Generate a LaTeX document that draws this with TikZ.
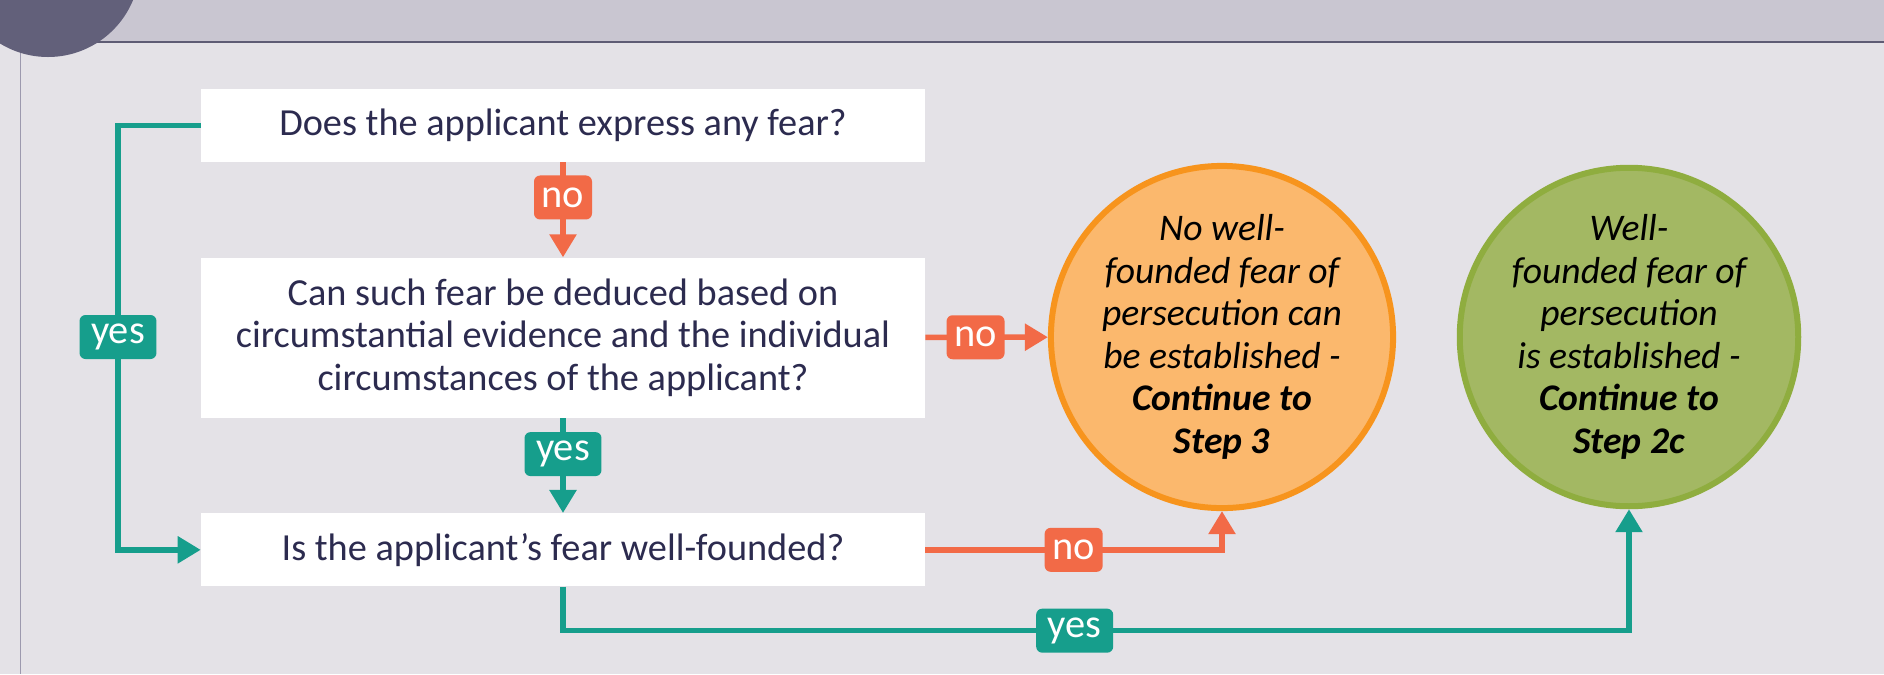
\documentclass[tikz,border=0pt]{standalone}
\usepackage{fontspec}
\setmainfont{Carlito}
\usetikzlibrary{positioning,arrows.meta}

\definecolor{pagebg}{HTML}{E4E2E7}
\definecolor{bandbg}{HTML}{C9C6D1}
\definecolor{bandline}{HTML}{5E5C74}
\definecolor{discfill}{HTML}{62607A}
\definecolor{framegray}{HTML}{9C99AE}
\definecolor{yesteal}{HTML}{169E8C}
\definecolor{noorange}{HTML}{F26A47}
\definecolor{failfill}{HTML}{FBB86D}
\definecolor{faildraw}{HTML}{F7941D}
\definecolor{passfill}{HTML}{A3B863}
\definecolor{passdraw}{HTML}{8FAD3F}
\definecolor{qtext}{HTML}{2C2B4F}

\begin{document}
\begin{tikzpicture}[
    x=0.02cm, y=-0.02cm,
    question/.style={rectangle, fill=white, text=qtext, minimum width=14.48cm,
        align=center, inner sep=0pt, font=\fontsize{21.8pt}{24pt}\selectfont},
    outcome/.style={circle, line width=0.12cm, minimum size=6.16cm, inner sep=0pt,
        align=center, font=\fontsize{21.4pt}{24.2pt}\selectfont\itshape},
    badge/.style={rectangle, rounded corners=0.12cm, minimum height=0.88cm,
        inner sep=0pt, text=white, font=\fontsize{23pt}{24pt}\selectfont},
    nobadge/.style={badge, fill=noorange, minimum width=1.16cm},
    yesbadge/.style={badge, fill=yesteal, minimum width=1.54cm},
    noline/.style={draw=noorange, line width=0.11cm},
    yesline/.style={draw=yesteal, line width=0.11cm},
    arrowstyle/.style={-{Triangle[width=0.52cm, length=0.46cm]}},
    node distance=1.9cm
]
% page background, header band and frame
\useasboundingbox (0,0) rectangle (1884,674);
\fill[pagebg] (0,0) rectangle (1884,674);
\fill[bandbg] (0,0) rectangle (1884,42);
\draw[bandline, line width=0.04cm] (0,42) -- (1884,42);
\draw[framegray, line width=0.03cm] (20.5,42) -- (20.5,674);
\fill[discfill] (48,-35) circle (92);

% questions
\node (Express) [question, minimum height=1.46cm] at (563,125.5)
    {Does the applicant express any fear?};
\node (Deduced) [question, minimum height=3.2cm, below=of Express]
    {Can such fear be deduced based on\\
     circumstantial evidence and the individual\\
     circumstances of the applicant?};
\node (Founded) [question, minimum height=1.46cm, below=of Deduced]
    {Is the applicant’s fear well-founded?};

% outcomes
\node (Fail) [outcome, fill=failfill, draw=faildraw] at (1222,337)
    {No well-\\founded fear of\\persecution can\\be established -\\
     \textbf{Continue to}\\\textbf{Step 3}};
\node (Pass) [outcome, fill=passfill, draw=passdraw] at (1629,337)
    {Well-\\founded fear of\\persecution\\is established -\\
     \textbf{Continue to}\\\textbf{Step 2c}};

% answers
\draw[noline, arrowstyle] (Express) -- node[nobadge, pos=0.37] {no} (Deduced);
\draw[yesline, arrowstyle] (Deduced) -- node[yesbadge, pos=0.38] {yes} (Founded);
\draw[noline, arrowstyle] (Deduced) -- node[nobadge, pos=0.41] {no} (Fail);
\node (YesLeft) [yesbadge] at (118,337) {yes};
\draw[yesline] (Express.west) -| (YesLeft);
\draw[yesline, arrowstyle] (YesLeft) |- (Founded.west);
\draw[noline, arrowstyle] (Founded.east) -| node[nobadge, pos=0.25] {no} (Fail.south);
\draw[yesline, arrowstyle] (Founded.south) -- ++(0,44)
    -| node[yesbadge, pos=0.24] {yes} (Pass.south);
\end{tikzpicture}
\end{document}
